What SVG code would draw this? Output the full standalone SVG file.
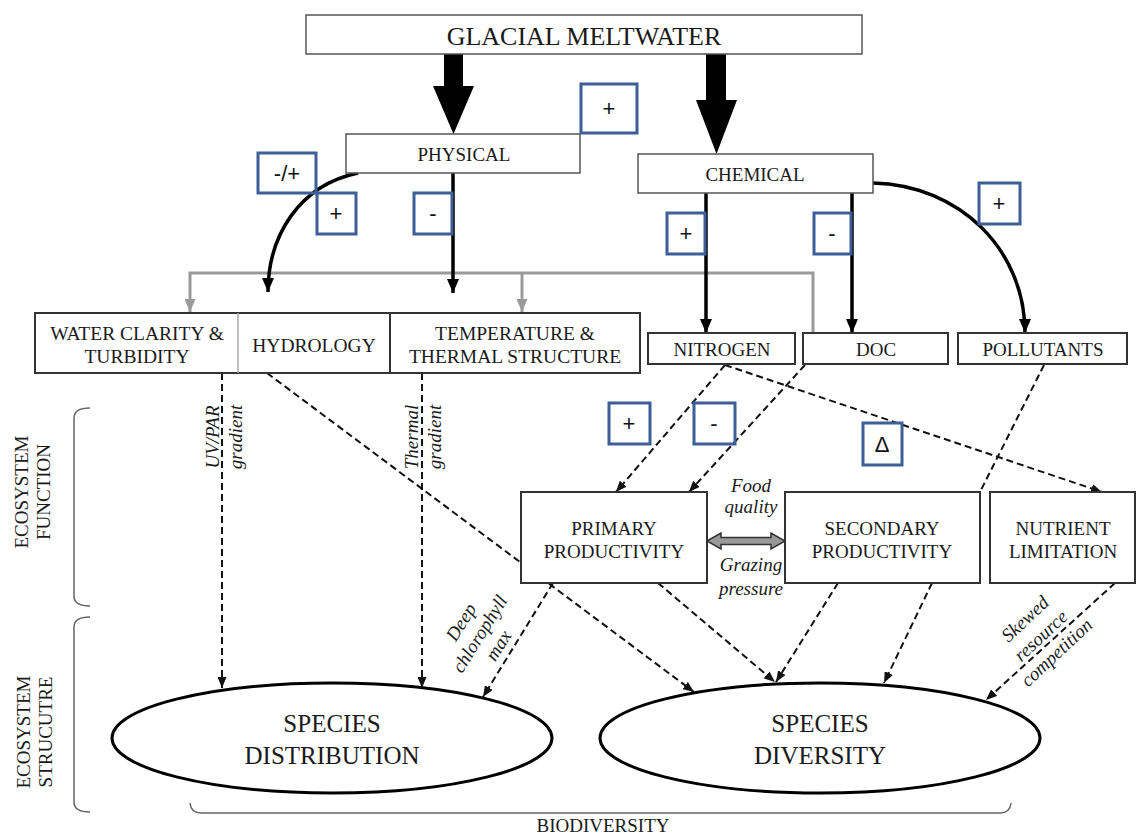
<svg xmlns="http://www.w3.org/2000/svg" width="1137" height="834" viewBox="0 0 1137 834">
<defs>
<style>
.t{font-family:"Liberation Serif","Times New Roman",serif;fill:#1a1a1a;text-anchor:middle;font-size:19px}
.it{font-style:italic}
.box{fill:#fff;stroke:#333;stroke-width:2}
.lbox{fill:#fff;stroke:#555;stroke-width:1.5}
.sig{fill:none;stroke:#3d5f98;stroke-width:3}
.st{font-family:"Liberation Sans",Arial,sans-serif;font-size:22px;fill:#111;text-anchor:middle}
.solid{fill:none;stroke:#000;stroke-width:3.5}
.dash{fill:none;stroke:#111;stroke-width:2;stroke-dasharray:7 4}
.grey{fill:none;stroke:#9a9a9a;stroke-width:3}
.brk{fill:none;stroke:#666;stroke-width:1.5}
.ell{fill:#fff;stroke:#000;stroke-width:3}
.cb{font-size:19.5px}
</style>
<marker id="ab" markerUnits="userSpaceOnUse" markerWidth="14" markerHeight="12" viewBox="0 0 14 12" refX="14" refY="6" orient="auto"><path d="M0,0 L14,6 L0,12 Z" fill="#000"/></marker>
<marker id="ad" markerUnits="userSpaceOnUse" markerWidth="11" markerHeight="9" viewBox="0 0 11 9" refX="11" refY="4.5" orient="auto"><path d="M0,0 L11,4.5 L0,9 Z" fill="#111"/></marker>
<marker id="ag" markerUnits="userSpaceOnUse" markerWidth="13" markerHeight="11" viewBox="0 0 13 11" refX="13" refY="5.5" orient="auto"><path d="M0,0 L13,5.5 L0,11 Z" fill="#9a9a9a"/></marker>
</defs>
<rect width="1137" height="834" fill="#fff"/>

<g id="connectors">
  <path class="grey" d="M813,333 L813,273 L190,273 L190,312" marker-end="url(#ag)"/>
  <path class="grey" d="M522,273 L522,312" marker-end="url(#ag)"/>
  <polygon points="444,54 463,54 463,86 474,86 453.5,134 433,86 444,86" fill="#000"/>
  <polygon points="706,54 726,54 726,100 737,100 716.5,154 696,100 706,100" fill="#000"/>
  <path class="solid" d="M453,173 L453,293" marker-end="url(#ab)"/>
  <path class="solid" d="M358,173 C300,185 268,235 268,292" marker-end="url(#ab)"/>
  <path class="solid" d="M706,193 L706,333" marker-end="url(#ab)"/>
  <path class="solid" d="M852,193 L852,333" marker-end="url(#ab)"/>
  <path class="solid" d="M873,183 C960,185 1025,250 1025,333" marker-end="url(#ab)"/>
  <path class="dash" d="M222,373 L222,688" marker-end="url(#ad)"/>
  <path class="dash" d="M422,373 L422,688" marker-end="url(#ad)"/>
  <path class="dash" d="M267,373 L694,692" marker-end="url(#ad)"/>
  <path class="dash" d="M725,365 L616,492" marker-end="url(#ad)"/>
  <path class="dash" d="M805,365 L689,492" marker-end="url(#ad)"/>
  <path class="dash" d="M725,365 L1102,492" marker-end="url(#ad)"/>
  <path class="dash" d="M1044,365 L980,492"/>
  <path class="dash" d="M553,583 L483,697" marker-end="url(#ad)"/>
  <path class="dash" d="M658,583 L775,682" marker-end="url(#ad)"/>
  <path class="dash" d="M838,583 L776,682" marker-end="url(#ad)"/>
  <path class="dash" d="M932,583 L884,683" marker-end="url(#ad)"/>
  <path class="dash" d="M1115,583 L986,700" marker-end="url(#ad)"/>
  <polygon points="707,541 721,533 721,537.5 771,537.5 771,533 785,541 771,549 771,544.5 721,544.5 721,549" fill="#999" stroke="#333" stroke-width="1.5"/>
</g>

<g id="glacial"><rect class="lbox" x="306" y="15" width="556" height="39"/><text class="t" x="584" y="45" style="font-size:26px">GLACIAL MELTWATER</text></g>
<g id="physical"><rect class="lbox" x="346" y="134" width="234" height="39"/><text class="t" x="464" y="161">PHYSICAL</text></g>
<g id="chemical"><rect class="lbox" x="638" y="154" width="235" height="39"/><text class="t" x="755" y="181">CHEMICAL</text></g>

<g id="physical-factors">
  <rect class="box" x="35" y="313" width="605" height="60"/>
  <line x1="238" y1="313" x2="238" y2="373" stroke="#aaa" stroke-width="1.5"/>
  <line x1="390" y1="313" x2="390" y2="373" stroke="#333" stroke-width="2"/>
  <text class="t cb" x="137" y="340">WATER CLARITY &amp;</text>
  <text class="t cb" x="137" y="363">TURBIDITY</text>
  <text class="t cb" x="314" y="352">HYDROLOGY</text>
  <text class="t cb" x="515" y="340">TEMPERATURE &amp;</text>
  <text class="t cb" x="515" y="363">THERMAL STRUCTURE</text>
</g>
<g id="nitrogen"><rect class="box" x="648" y="333" width="147" height="31"/><text class="t" x="722" y="356">NITROGEN</text></g>
<g id="doc"><rect class="box" x="803" y="333" width="145" height="31"/><text class="t" x="876" y="356">DOC</text></g>
<g id="pollutants"><rect class="box" x="958" y="333" width="169" height="31"/><text class="t" x="1043" y="356">POLLUTANTS</text></g>

<g id="primary"><rect class="box" x="521" y="492" width="186" height="91"/><text class="t" x="614" y="535">PRIMARY</text><text class="t" x="614" y="558">PRODUCTIVITY</text></g>
<g id="secondary"><rect class="box" x="785" y="492" width="195" height="91"/><text class="t" x="882" y="535">SECONDARY</text><text class="t" x="882" y="558">PRODUCTIVITY</text></g>
<g id="nutrient"><rect class="box" x="990" y="492" width="145" height="91"/><text class="t" x="1063" y="535">NUTRIENT</text><text class="t" x="1063" y="558">LIMITATION</text></g>

<g id="distribution"><ellipse class="ell" cx="332" cy="738" rx="220" ry="55"/><text class="t" x="332" y="732" style="font-size:25px">SPECIES</text><text class="t" x="332" y="764" style="font-size:25px">DISTRIBUTION</text></g>
<g id="diversity"><ellipse class="ell" cx="820" cy="738" rx="220" ry="55"/><text class="t" x="820" y="732" style="font-size:25px">SPECIES</text><text class="t" x="820" y="764" style="font-size:25px">DIVERSITY</text></g>

<g id="signs">
  <rect class="sig" x="581" y="84" width="56" height="49"/><text class="st" x="609" y="116">+</text>
  <rect class="sig" x="258" y="153" width="58" height="40"/><text class="st" x="287" y="181">-/+</text>
  <rect class="sig" x="317" y="193" width="39" height="41"/><text class="st" x="336" y="221">+</text>
  <rect class="sig" x="414" y="193" width="38" height="41"/><text class="st" x="433" y="221">-</text>
  <rect class="sig" x="667" y="213" width="38" height="41"/><text class="st" x="686" y="241">+</text>
  <rect class="sig" x="814" y="213" width="37" height="41"/><text class="st" x="832" y="241">-</text>
  <rect class="sig" x="979" y="183" width="41" height="41"/><text class="st" x="999" y="211">+</text>
  <rect class="sig" x="609" y="403" width="41" height="41"/><text class="st" x="629" y="431">+</text>
  <rect class="sig" x="694" y="403" width="41" height="41"/><text class="st" x="714" y="431">-</text>
  <rect class="sig" x="863" y="423" width="39" height="42"/><text class="st" x="882" y="452">Δ</text>
</g>

<g id="labels">
  <text class="t it" transform="translate(219,437) rotate(-90)">UV/PAR</text>
  <text class="t it" transform="translate(242,437) rotate(-90)">gradient</text>
  <text class="t it" transform="translate(418,437) rotate(-90)">Thermal</text>
  <text class="t it" transform="translate(441,437) rotate(-90)">gradient</text>
  <text class="t it" x="751" y="492">Food</text>
  <text class="t it" x="751" y="513">quality</text>
  <text class="t it" x="751" y="571">Grazing</text>
  <text class="t it" x="751" y="595">pressure</text>
  <text class="t it" transform="translate(480,634) rotate(-58)"><tspan x="0" y="-16">Deep</tspan><tspan x="0" y="6">chlorophyll</tspan><tspan x="0" y="28">max</tspan></text>
  <text class="t it" transform="translate(1041,636) rotate(-43)"><tspan x="0" y="-17">Skewed</tspan><tspan x="0" y="6">resource</tspan><tspan x="0" y="29">competition</tspan></text>
</g>

<g id="brackets">
  <path class="brk" d="M90,408 Q74,408 74,418 L74,596 Q74,606 90,606"/>
  <path class="brk" d="M90,617 Q74,617 74,627 L74,802 Q74,812 90,812"/>
  <path class="brk" d="M190,803 Q191,813 201,813 L1000,813 Q1010,813 1011,803"/>
  <text class="t" transform="translate(28,492) rotate(-90)">ECOSYSTEM</text>
  <text class="t" transform="translate(50,492) rotate(-90)">FUNCTION</text>
  <text class="t" transform="translate(30,732) rotate(-90)">ECOSYSTEM</text>
  <text class="t" transform="translate(52,732) rotate(-90)">STRUCUTRE</text>
  <text class="t" x="603" y="832">BIODIVERSITY</text>
</g>
</svg>
